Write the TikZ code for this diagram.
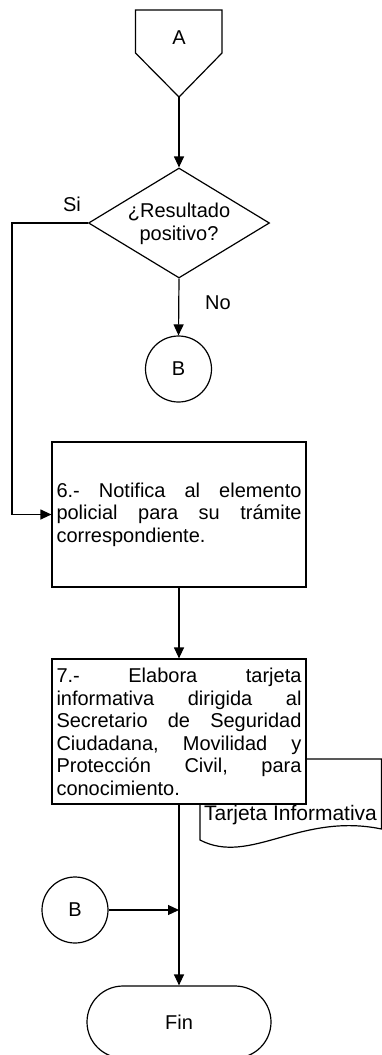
\documentclass[tikz,border=0pt]{standalone}
\usepackage{fontspec}
\setmainfont{Liberation Sans}
\usetikzlibrary{shapes.geometric,shapes.misc,arrows.meta}
\newcommand{\jline}[1]{\leavevmode\hbox to 245pt{#1}}
\begin{document}
\begin{tikzpicture}[x=1pt,y=-1pt,
  every node/.style={font=\fontsize{20}{22.5}\selectfont},
  ln/.style={line width=1.2pt},
  arr/.style={ln,-{Triangle[length=11pt,width=10pt]}},
  procbox/.style={draw,ln,fill=white,minimum width=254pt,minimum height=145pt,inner sep=0pt},
  boxtext/.style={text width=245pt,align=left,inner sep=0pt},
  conn/.style={draw,ln,circle,minimum size=66pt,inner sep=0pt},
  lbl/.style={inner sep=0pt}
]
\useasboundingbox (0,0) rectangle (382,1055);
\clip (0,0) rectangle (382,1055);

% off-page connector A
\draw[ln] (135.5,10) -- (222,10) -- (222,53) -- (179,97) -- (135.5,53) -- cycle;
\node[lbl] (A) at (179,38) {A};
\coordinate (Abot) at (179,97);

% decision
\node[draw,ln,diamond,minimum width=181pt,minimum height=110pt,inner sep=0pt] (D) at (179,223) {};
\node[lbl,align=center] (Dtext) at (179,224) {¿Resultado\\positivo?};
\draw[arr] (Abot) -- (D.north);

\node[lbl] (si) at (72,204) {Si};
\node[lbl] (no) at (218,303) {No};

% connector B (top)
\node[conn] (B1) at (178.5,369) {B};
\draw[arr] (D.south) -- (B1.north);

% box 6
\node[procbox] (b6) at (179,514.5) {};
\node[boxtext] (t6) at (179,514.5) {%
\jline{6.- \hfill Notifica \hfill al \hfill elemento}\\
\jline{policial \hfill para \hfill su \hfill trámite}\\
correspondiente.};

\coordinate (siturn) at (12,223);
\draw[arr] (D.west) -- (siturn) |- (b6.west);

% document Tarjeta Informativa
\path[draw,ln,fill=white] (200,759) -- (381.5,759) -- (381.5,829)
  .. controls (300,812) and (250,866) .. (200,840) -- cycle;
\node[lbl,anchor=west,font=\fontsize{21}{22.5}\selectfont] (doc) at (204,815) {Tarjeta Informativa};

% box 7
\node[procbox] (b7) at (179,731.5) {};
\node[boxtext] (t7) at (179,732) {%
\jline{7.- \hfill Elabora \hfill tarjeta}\\
\jline{informativa \hfill dirigida \hfill al}\\
\jline{Secretario \hfill de \hfill Seguridad}\\
\jline{Ciudadana, \hfill Movilidad \hfill y}\\
\jline{Protección \hfill Civil, \hfill para}\\
conocimiento.};
\draw[arr] (b6.south) -- (b7.north);

% connector B (bottom)
\node[conn] (B2) at (75,910) {B};
\coordinate (join) at (179,910);
\draw[arr] (B2.east) -- (join);

% terminal Fin
\node[draw,ln,rounded rectangle,minimum width=184pt,minimum height=72pt,inner sep=0pt] (fin) at (179,1022) {Fin};
\draw[arr] (b7.south) -- (fin.north);
\end{tikzpicture}
\end{document}
